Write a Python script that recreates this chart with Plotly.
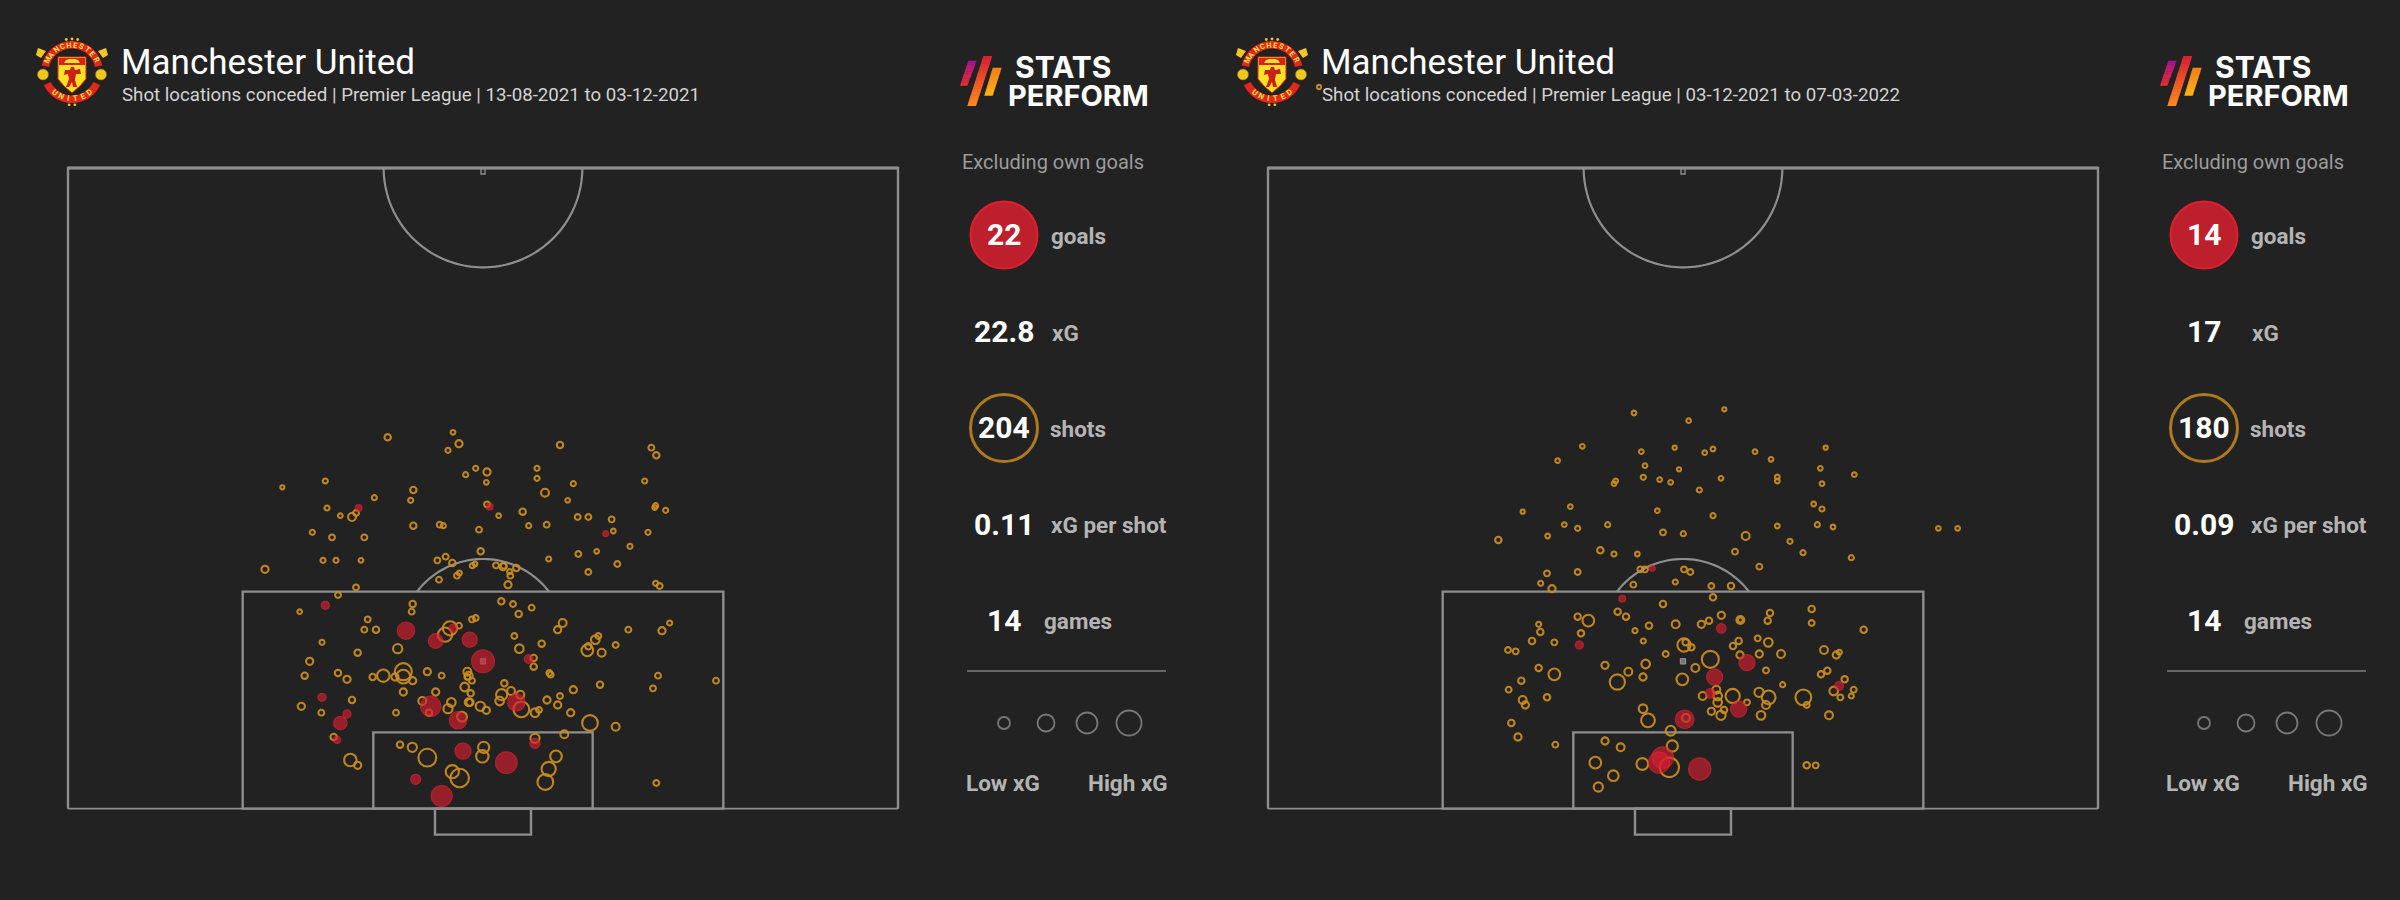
import numpy as np
import plotly.graph_objects as go

W, H = 2400, 900
BG = "#222222"
FONT = "Roboto"

# Pitch coordinates: x from the pitch centre line, y up from the goal line.
p1_shot_x = [-286,-90,-72,-105,231,505,520,-602,-473,-22,-52,12,10,162,162,271,485,-209,186,-326,-217,254,-468,12,518,515,548,-381,-393,-428,47,119,284,316,386,-209,-130,-119,137,191,-12,391,-512,495,-453,-356,441,-7,341,286,-480,-441,-366,-137,-112,-92,197,-654,-32,-24,39,60,62,80,100,403,316,82,-71,-78,-132,75,-381,518,530,-435,
 -211,-214,-550,55,90,146,107,-346,-356,-321,-33,-22,-72,-99,-114,239,224,436,560,537,346,337,94,-483,176,398,316,313,356,109,-256,-376,152,-520,152,-239,-239,-299,-331,-264,-211,-167,-124,-47,-43,-47,-33,199,203,-535,-435,-408,525,699,351,510,-55,64,271,-239,-142,-37,56,84,112,231,-393,-182,-95,-43,-39,-8,50,192,224,-545,-105,10,115,168,156,263,-485,-261,-162,-63,321,398,244,-448,156,-249,-212,2,-167,-2,219,-398,-376,197,-92,-70,187,520]
p1_shot_y = [1114,1129,1095,1075,1091,1083,1060,964,983,1021,1002,1010,979,1021,991,975,983,956,948,933,925,925,902,913,909,903,895,887,875,879,879,891,875,875,868,849,852,849,849,852,837,833,829,829,814,814,787,772,772,764,745,745,745,745,756,737,749,718,729,734,730,726,729,711,722,734,710,699,707,699,687,672,664,676,668,641,
 614,591,591,622,614,603,584,568,537,537,568,572,549,541,522,557,537,537,557,534,518,507,518,499,495,491,487,475,468,480,480,468,452,442,426,411,396,399,395,395,384,411,399,411,399,395,384,407,402,399,407,388,399,384,372,361,365,376,357,350,350,346,342,353,342,338,326,323,319,319,319,307,323,326,311,307,300,295,298,296,288,288,288,288,288,276,257,246,223,215,211,192,184,184,153,157,157,146,130,119,111,92,80,77]
p1_shot_xg = [.04,.015,.055,.02,.04,.03,.04,.01,.02,.02,.02,.055,.015,.02,.02,.02,.02,.04,.07,.02,.02,.015,.02,.03,.02,.015,.02,.03,.07,.015,.015,.04,.03,.03,.03,.04,.03,.02,.02,.03,.03,.015,.02,.02,.03,.03,.02,.04,.015,.03,.02,.02,.015,.03,.03,.04,.02,.055,.02,.015,.03,.055,.03,.02,.04,.03,.03,.03,.02,.03,.03,.055,.03,.02,.03,.03,
 .04,.03,.015,.04,.03,.03,.04,.03,.03,.04,.03,.03,.03,.3,.3,.07,.055,.03,.02,.055,.03,.09,.03,.02,.04,.03,.04,.19,.07,.09,.105,.04,.04,.055,.04,.45,.28,.22,.04,.055,.055,.055,.03,.07,.07,.03,.03,.03,.03,.04,.04,.055,.03,.03,.04,.03,.09,.04,.055,.055,.055,.04,.17,.07,.07,.03,.04,.07,.09,.07,.055,.105,.09,.055,.055,.055,.105,.055,.38,.03,.09,.055,.03,.03,.04,.125,.38,.07,.07,.04,.105,.04,.105,.17,.5,.22,.19,.22,.055,.3,.25,.55,.38,.03]

p1_goal_x = [-373,20,368,-473,-231,-90,-142,-40,0,137,-483,-157,100,-408,-428,-75,-438,156,-60,70,-202,-124]
p1_goal_y = [902,906,825,610,534,541,503,507,442,449,334,307,319,284,257,265,207,196,173,138,88,38]
p1_goal_xg = [.03,.03,.02,.055,.42,.055,.28,.3,.79,.07,.055,.6,.42,.055,.22,.42,.04,.105,.35,.7,.105,.65]

p2_shot_x = [-1092,-147,124,17,-302,-25,428,-125,90,65,216,264,-376,-114,-12,412,514,283,283,114,-119,-70,-37,-202,-207,417,49,392,417,-338,-481,-77,90,-356,-316,-226,283,403,450,766,824,-60,1,188,-406,-554,321,-248,-207,-137,156,360,505,229,-408,-316,-128,-114,3,22,-427,-393,-149,-23,85,144,
 -60,90,-316,-284,-196,-171,-433,-428,-306,-144,-102,-22,55,78,115,172,172,261,254,386,386,542,-453,-386,-525,-502,-119,3,8,25,-52,167,150,224,256,171,229,294,423,469,460,82,-234,-112,37,249,-433,-386,-485,-164,-197,-120,-2,433,414,485,299,-523,100,512,452,228,505,472,-481,-473,-408,59,149,257,361,104,104,192,249,371,-120,85,123,114,234,438,-105,9,-515,-37,-495,-234,-187,-383,-32,371,398,-263,-122,-41,-209,-254]
p2_shot_y = [2165,1187,1198,1164,1087,1083,1083,1071,1079,1068,1071,1048,1044,1029,1018,1021,1002,995,983,991,994,987,979,983,975,975,956,914,899,906,891,894,879,852,841,852,848,852,845,841,841,829,825,818,818,806,802,775,764,764,771,768,753,726,706,710,718,718,718,710,676,660,672,680,668,668,
 614,634,576,564,591,576,553,530,526,534,549,553,553,564,580,566,566,587,564,599,557,537,503,499,476,472,503,491,499,484,464,503,488,511,499,461,464,464,476,469,461,448,430,434,422,415,422,403,384,411,380,395,388,414,403,388,372,357,357,357,353,349,338,334,326,311,334,338,338,334,334,338,319,319,311,311,300,292,296,280,280,280,265,272,257,234,215,203,184,192,188,130,130,138,134,124,99,65]
p2_shot_xg = [.01,.015,.01,.015,.015,.01,.01,.015,.015,.015,.015,.015,.015,.015,.01,.015,.015,.015,.015,.015,.02,.015,.015,.015,.015,.015,.02,.015,.02,.015,.01,.015,.02,.015,.02,.02,.015,.02,.015,.015,.015,.03,.02,.07,.015,.04,.02,.04,.02,.015,.03,.02,.02,.03,.03,.03,.03,.03,.03,.03,.02,.055,.03,.02,.03,.04,
 .04,.04,.04,.19,.04,.04,.02,.04,.04,.02,.04,.07,.055,.04,.055,.07,.02,.04,.04,.04,.03,.04,.04,.03,.03,.03,.02,.25,.04,.04,.03,.04,.04,.03,.09,.055,.055,.07,.07,.02,.055,.45,.055,.09,.07,.03,.04,.19,.04,.07,.35,.055,.19,.04,.04,.04,.02,.03,.07,.03,.09,.105,.02,.03,.07,.055,.04,.07,.3,.28,.38,.09,.09,.03,.07,.03,.09,.055,.04,.105,.09,.07,.28,.07,.04,.125,.055,.055,.07,.03,.17,.04,.03,.19,.19,.6,.15,.105]

p2_goal_x = [-92,-182,115,-311,192,95,82,468,167,5,-61,-72,50]
p2_goal_y = [721,630,541,491,438,395,346,368,299,268,153,138,119]
p2_goal_xg = [.02,.03,.09,.055,.35,.35,.09,.07,.35,.5,.7,.65,.75]

assert len(p1_shot_x) == len(p1_shot_y) == len(p1_shot_xg), (len(p1_shot_x), len(p1_shot_y), len(p1_shot_xg))
assert len(p2_shot_x) == len(p2_shot_y) == len(p2_shot_xg), (len(p2_shot_x), len(p2_shot_y), len(p2_shot_xg))

titles = ["Manchester United", "Manchester United"]
subtitles = ["Shot locations conceded | Premier League | 13-08-2021 to 03-12-2021",
             "Shot locations conceded | Premier League | 03-12-2021 to 07-03-2022"]
stat_values = [["22", "22.8", "204", "0.11", "14"], ["14", "17", "180", "0.09", "14"]]
stat_labels = ["goals", "xG", "shots", "xG per shot", "games"]
legend_texts = ["Low xG", "High xG"]

LINE = "#8e8e8e"
px_x = lambda p: p / W
px_y = lambda p: 1 - p / H

fig = go.Figure()
shapes, anns = [], []

def pshape(kind, x0, y0, x1, y1, **kw):
    shapes.append(dict(type=kind, xref="paper", yref="paper", x0=px_x(x0), x1=px_x(x1),
                       y0=px_y(y0), y1=px_y(y1), **kw))

def ppoly(points, fill, line="rgba(0,0,0,0)", lw=0):
    d = "M" + " L".join(f"{px_x(a):.5f},{px_y(b):.5f}" for a, b in points) + " Z"
    shapes.append(dict(type="path", xref="paper", yref="paper", path=d, fillcolor=fill,
                       line=dict(color=line, width=lw)))

def ptext(x, y, text, size, color, anchor="center", bold=False, angle=0, font=FONT, height=None):
    t = f"<b>{text}</b>" if bold else text
    a = dict(xref="paper", yref="paper", x=px_x(x), y=px_y(y), text=t, showarrow=False,
             xanchor=anchor, yanchor="middle", textangle=angle,
             font=dict(family=font, size=size, color=color))
    if height:
        a["height"] = height
    anns.append(a)

def arc_band(cx, cy, r0, r1, a0, a1, color):
    a = np.radians(np.linspace(a0, a1, 40))
    outer = [(cx + r1 * np.cos(t), cy - r1 * np.sin(t)) for t in a]
    inner = [(cx + r0 * np.cos(t), cy - r0 * np.sin(t)) for t in a[::-1]]
    ppoly(outer + inner, color)

def crest(dx):
    cx, cy = 72 + dx, 72
    gold = "#f3c81e"
    red = "#e3261c"
    # corner flags and small gold dots
    for sx in (-1, 1):
        ppoly([(cx + sx * 34, 48), (cx + sx * 26, 51), (cx + sx * 31, 58), (cx + sx * 36, 55)], gold)
        pshape("circle", cx + sx * 29 - 5.5, 69, cx + sx * 29 + 5.5, 80, fillcolor=gold, line=dict(color="#8a6d10", width=0.6))
    for ang in [80, 90, 100, 265, 275]:
        t = np.radians(ang)
        pshape("circle", cx + 33 * np.cos(t) - 1.4, cy - 33 * np.sin(t) - 1.4, cx + 33 * np.cos(t) + 1.4, cy - 33 * np.sin(t) + 1.4,
               fillcolor=gold, line=dict(width=0))
    arc_band(cx, cy, 23.5, 31, 168, 12, red)
    arc_band(cx, cy, 23.5, 31, 205, 335, red)
    # shield
    ppoly([(cx - 14, 57), (cx + 14, 57), (cx + 14, 79), (cx + 8, 86), (cx, 93), (cx - 8, 86), (cx - 14, 79)], "#fbe122", red, 1)
    ppoly([(cx - 13, 58), (cx + 13, 58), (cx + 13, 65), (cx - 13, 65)], "#d8231b")
    ppoly([(cx - 8, 63), (cx + 8, 63), (cx + 6, 60), (cx + 3, 59), (cx - 3, 59), (cx - 6, 60)], "#fbe122")
    # devil
    ppoly([(cx - 1, 67), (cx + 2, 67), (cx + 3, 70), (cx + 8, 69), (cx + 9, 74), (cx + 4, 74), (cx + 3, 80),
           (cx + 5, 87), (cx + 1, 87), (cx, 82), (cx - 3, 87), (cx - 6, 87), (cx - 3, 79), (cx - 4, 74), (cx - 8, 75), (cx - 7, 70), (cx - 2, 70)], "#c8201a")
    # curved lettering
    for letter, ang in zip("MANCHESTER", np.linspace(153, 27, 10)):
        t = np.radians(ang)
        ptext(cx + 27.2 * np.cos(t), cy - 27.2 * np.sin(t), letter, 7.5, "#fde047", bold=True, angle=90 - ang)
    for letter, ang in zip("UNITED", np.linspace(230, 310, 6)):
        t = np.radians(ang)
        ptext(cx + 27.2 * np.cos(t), cy - 27.2 * np.sin(t), letter, 8, "#fde047", bold=True, angle=270 - ang)

def lerp_color(c0, c1, f):
    return "rgb(" + ",".join(str(int(a + (b - a) * f)) for a, b in zip(c0, c1)) + ")"

def grad_bar(dx, tl, tr, bl, br, c0, c1, n=14):
    for i in range(n):
        f0, f1 = i / n, (i + 1) / n + 0.01
        f1 = min(f1, 1)
        pts = [(tl[0] + (bl[0] - tl[0]) * f0 + dx, tl[1] + (bl[1] - tl[1]) * f0),
               (tr[0] + (br[0] - tr[0]) * f0 + dx, tr[1] + (br[1] - tr[1]) * f0),
               (tr[0] + (br[0] - tr[0]) * f1 + dx, tr[1] + (br[1] - tr[1]) * f1),
               (tl[0] + (bl[0] - tl[0]) * f1 + dx, tl[1] + (bl[1] - tl[1]) * f1)]
        ppoly(pts, lerp_color(c0, c1, (i + .5) / n))

def logo(dx):
    grad_bar(dx, (968.3, 60.7), (976.7, 60.7), (960, 85.7), (967.3, 85.7), (165, 20, 145), (235, 45, 45))
    grad_bar(dx, (983.3, 56), (992.3, 56), (967.3, 106), (976, 106), (215, 30, 50), (255, 140, 30))
    grad_bar(dx, (992.7, 67.7), (1001.7, 67.7), (984.3, 95.7), (992.7, 95.7), (245, 125, 30), (253, 180, 22))
    ptext(1013 + dx, 66.5, "STATS", 30, "white", anchor="left", bold=True, font="Inter", height=28)
    ptext(1006 + dx, 95, "PERFORM", 29, "white", anchor="left", bold=True, font="Inter", height=28)

stat_y = [235, 332, 428, 524, 620]
label_x = [1079, 1066, 1079, 1110, 1079]
leg_x = [1004, 1046, 1087, 1129]
leg_d = [12, 17, 21, 25]

for i in range(2):
    dx = 1200 * i
    crest(dx)
    logo(dx)
    ptext(119 + dx, 62, titles[i], 35, "white", anchor="left")
    ptext(120 + dx, 95, subtitles[i], 18.7, "#d2d2d2", anchor="left")
    ptext(1053 + dx, 162, "Excluding own goals", 20, "#9c9c9c")
    pshape("circle", 970.5 + dx, 201.5, 1037.5 + dx, 268.5, fillcolor="#bd1f2d", line=dict(color="#de202f", width=2))
    pshape("circle", 970.5 + dx, 394.5, 1037.5 + dx, 461.5, fillcolor="rgba(0,0,0,0)", line=dict(color="#ad7a1f", width=3))
    for v, l, y, lx in zip(stat_values[i], stat_labels, stat_y, label_x):
        ptext(1004 + dx, y, v, 30, "white", bold=True)
        ptext(lx - 1 + dx, y + 1, l, 22.5, "#b4b4b4", bold=True)
    pshape("line", 967 + dx, 671, 1166 + dx, 671, line=dict(color="#666666", width=2))
    for lxx, d in zip(leg_x, leg_d):
        pshape("circle", lxx - d / 2 + dx, 723 - d / 2, lxx + d / 2 + dx, 723 + d / 2,
               line=dict(color="#777777", width=1.8), fillcolor="rgba(0,0,0,0)")
    ptext(1003 + dx, 783, legend_texts[0], 22.5, "#b4b4b4", bold=True)
    ptext(1128 + dx, 783, legend_texts[1], 22.5, "#b4b4b4", bold=True)

# Pitch geometry in axis units
HALF_W, TOP = 1245, 1922
BOX_W, BOX_H = 721, 651
SIX_W, SIX_H = 329, 229
GOAL_W, GOAL_D = 144, -78

def pitch(xref, yref):
    def rect(x0, y0, x1, y1, w=2.4, fill="rgba(0,0,0,0)", color=LINE):
        shapes.append(dict(type="rect", xref=xref, yref=yref, x0=x0, y0=y0, x1=x1, y1=y1,
                           line=dict(color=color, width=w), fillcolor=fill, layer="below"))
    def poly(xs, ys, w=2.4):
        d = "M" + " L".join(f"{a:.1f},{b:.1f}" for a, b in zip(xs, ys))
        shapes.append(dict(type="path", xref=xref, yref=yref, path=d, line=dict(color=LINE, width=w), layer="below"))
    poly([-HALF_W, -HALF_W, HALF_W, HALF_W], [0, TOP, TOP, 0], 2.4)
    poly([-HALF_W, HALF_W], [TOP, TOP], 3.2)
    poly([-HALF_W, HALF_W], [0, 0], 1.8)
    rect(-BOX_W, 0, BOX_W, BOX_H)
    rect(-SIX_W, 0, SIX_W, SIX_H)
    rect(-GOAL_W, GOAL_D, GOAL_W, 0)
    t = np.linspace(np.pi, 2 * np.pi, 90)
    poly(298 * np.cos(t), TOP + 298 * np.sin(t), 2.2)
    a = np.arcsin(198 / 249)
    t = np.linspace(-a, a, 50)
    poly(249 * np.sin(t), 500 + 249 * np.cos(t), 2.2)
    rect(-8, 434, 8, 450, w=1, fill="#777777", color="#999999")
    rect(-6, TOP - 18, 6, TOP, w=1.4)

def rad(xg):
    return 4 + 22.5 * np.sqrt(np.asarray(xg))

def add_panel(sx, sy, sg, gx, gy, gg, xa, ya):
    fig.add_trace(go.Scatter(x=sx, y=sy, mode="markers", xaxis=xa, yaxis=ya, hoverinfo="skip",
                             marker=dict(size=rad(sg) - 2.1, color="rgba(0,0,0,0)", opacity=0.92,
                                         line=dict(color="rgb(204,142,32)", width=2.1))))
    fig.add_trace(go.Scatter(x=gx, y=gy, mode="markers", xaxis=xa, yaxis=ya, hoverinfo="skip",
                             marker=dict(size=rad(gg) - 1.2, color="rgba(216,30,48,0.92)",
                                         line=dict(color="rgba(236,36,54,0.95)", width=1.2))))

pitch("x", "y")
pitch("x2", "y2")
add_panel(p1_shot_x, p1_shot_y, p1_shot_xg, p1_goal_x, p1_goal_y, p1_goal_xg, "x", "y")
add_panel(p2_shot_x, p2_shot_y, p2_shot_xg, p2_goal_x, p2_goal_y, p2_goal_xg, "x2", "y2")

# 1 axis unit = 1/3 px
XR, YR = [-1275, 1275], [-120, 2240]
y_bot, y_top = 808.67 + 40, 808.67 - 2240 / 3
ax = dict(visible=False, fixedrange=True)
fig.update_layout(
    width=W, height=H, margin=dict(l=0, r=0, t=0, b=0), autosize=False,
    paper_bgcolor=BG, plot_bgcolor="rgba(0,0,0,0)", showlegend=False,
    xaxis=dict(domain=[58 / W, 908 / W], range=XR, **ax),
    yaxis=dict(domain=[1 - y_bot / H, 1 - y_top / H], range=YR, **ax),
    xaxis2=dict(domain=[1258 / W, 2108 / W], range=XR, **ax),
    yaxis2=dict(domain=[1 - y_bot / H, 1 - y_top / H], range=YR, anchor="x2", **ax),
    shapes=shapes, annotations=anns, font=dict(family=FONT),
)
fig.write_html("out.html", config=dict(displayModeBar=False),
               post_script="document.body.style.margin='0';document.body.style.background='#222222';document.body.style.overflow='hidden';")
